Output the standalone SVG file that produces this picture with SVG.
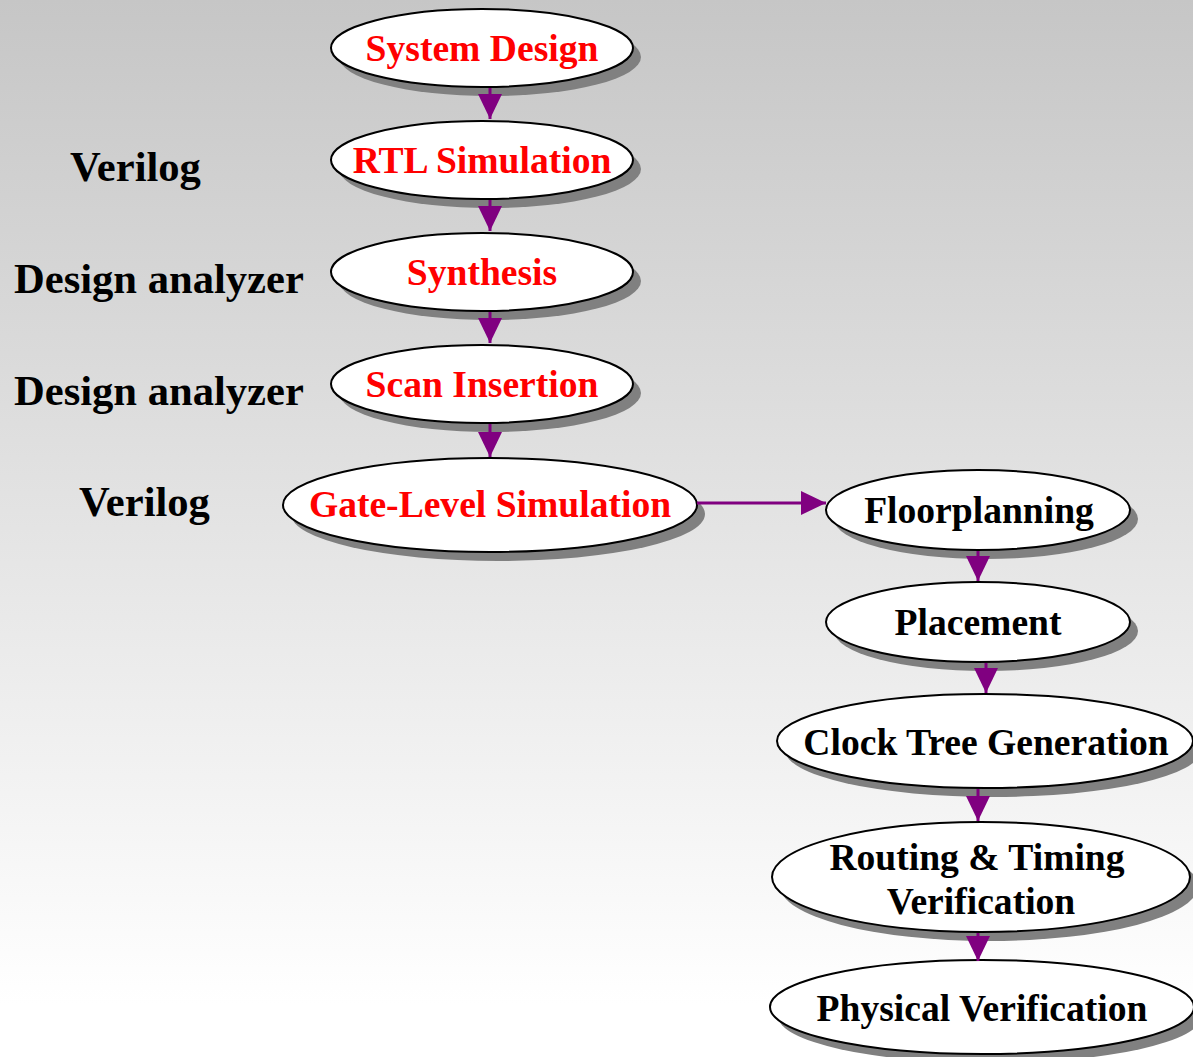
<svg xmlns="http://www.w3.org/2000/svg" width="1193" height="1057" viewBox="0 0 1193 1057">
<defs>
<linearGradient id="bg" x1="0" y1="0" x2="0" y2="1">
<stop offset="0" stop-color="#c6c6c6"/>
<stop offset="0.95" stop-color="#ffffff"/>
<stop offset="1" stop-color="#ffffff"/>
</linearGradient>
<marker id="ah" markerUnits="userSpaceOnUse" markerWidth="26" markerHeight="26" refX="25" refY="12" orient="auto">
<path d="M0,0 L25,12 L0,24 z" fill="#800080"/>
</marker>
</defs>
<style>
.sh{fill:#808080}
.el{fill:#ffffff;stroke:#000000;stroke-width:2}
.t{font-family:"Liberation Serif","Times New Roman",serif;font-weight:bold;font-size:37.6px;text-anchor:middle}
.red{fill:#ff0000}
.blk{fill:#000000}
.lbl{font-family:"Liberation Serif","Times New Roman",serif;font-weight:bold;font-size:42.6px;fill:#000000}
.c{stroke:#800080;stroke-width:3;fill:none;marker-end:url(#ah)}
</style>
<rect x="0" y="0" width="1193" height="1057" fill="url(#bg)"/>

<g id="labels">
<text class="lbl" x="70" y="181">Verilog</text>
<text class="lbl" x="14" y="293">Design analyzer</text>
<text class="lbl" x="14" y="405">Design analyzer</text>
<text class="lbl" x="79" y="516">Verilog</text>
</g>

<g id="n-system-design">
<ellipse class="sh" cx="490" cy="57" rx="151" ry="39"/>
<ellipse class="el" cx="482" cy="48" rx="151" ry="39"/>
<text class="t red" x="482" y="61">System Design</text>
</g>
<g id="n-rtl-simulation">
<ellipse class="sh" cx="490" cy="169" rx="151" ry="39"/>
<ellipse class="el" cx="482" cy="160" rx="151" ry="39"/>
<text class="t red" x="482" y="173">RTL Simulation</text>
</g>
<g id="n-synthesis">
<ellipse class="sh" cx="490" cy="281" rx="151" ry="39"/>
<ellipse class="el" cx="482" cy="272" rx="151" ry="39"/>
<text class="t red" x="482" y="285">Synthesis</text>
</g>
<g id="n-scan-insertion">
<ellipse class="sh" cx="490" cy="393" rx="151" ry="39"/>
<ellipse class="el" cx="482" cy="384" rx="151" ry="39"/>
<text class="t red" x="482" y="397">Scan Insertion</text>
</g>
<g id="n-gate-level">
<ellipse class="sh" cx="498" cy="514" rx="207" ry="47"/>
<ellipse class="el" cx="490" cy="505" rx="207" ry="47"/>
<text class="t red" x="490" y="517">Gate-Level Simulation</text>
</g>
<g id="n-floorplanning">
<ellipse class="sh" cx="986" cy="519" rx="152" ry="40"/>
<ellipse class="el" cx="978" cy="510" rx="152" ry="40"/>
<text class="t blk" x="979" y="523">Floorplanning</text>
</g>
<g id="n-placement">
<ellipse class="sh" cx="986" cy="631" rx="152" ry="40"/>
<ellipse class="el" cx="978" cy="622" rx="152" ry="40"/>
<text class="t blk" x="978" y="635">Placement</text>
</g>
<g id="n-clock-tree">
<ellipse class="sh" cx="993" cy="750" rx="208" ry="47"/>
<ellipse class="el" cx="985" cy="741" rx="208" ry="47"/>
<text class="t blk" x="986" y="755">Clock Tree Generation</text>
</g>
<g id="n-routing">
<ellipse class="sh" cx="989" cy="886" rx="209" ry="55"/>
<ellipse class="el" cx="981" cy="877" rx="209" ry="55"/>
<text class="t blk" x="977" y="870">Routing &amp; Timing</text>
<text class="t blk" x="981" y="914">Verification</text>
</g>
<g id="n-physical">
<ellipse class="sh" cx="990" cy="1016" rx="212" ry="47"/>
<ellipse class="el" cx="982" cy="1007" rx="212" ry="47"/>
<text class="t blk" x="982" y="1021">Physical Verification</text>
</g>

<g id="connectors">
<line class="c" x1="490" y1="88" x2="490" y2="119"/>
<line class="c" x1="490" y1="200" x2="490" y2="231"/>
<line class="c" x1="490" y1="312" x2="490" y2="343"/>
<line class="c" x1="490" y1="424" x2="490" y2="457"/>
<line class="c" x1="697" y1="503" x2="826" y2="503"/>
<line class="c" x1="978" y1="551" x2="978" y2="581"/>
<line class="c" x1="986" y1="663" x2="986" y2="693"/>
<line class="c" x1="978" y1="789" x2="978" y2="821"/>
<line class="c" x1="978" y1="933" x2="978" y2="961"/>
</g>
</svg>
